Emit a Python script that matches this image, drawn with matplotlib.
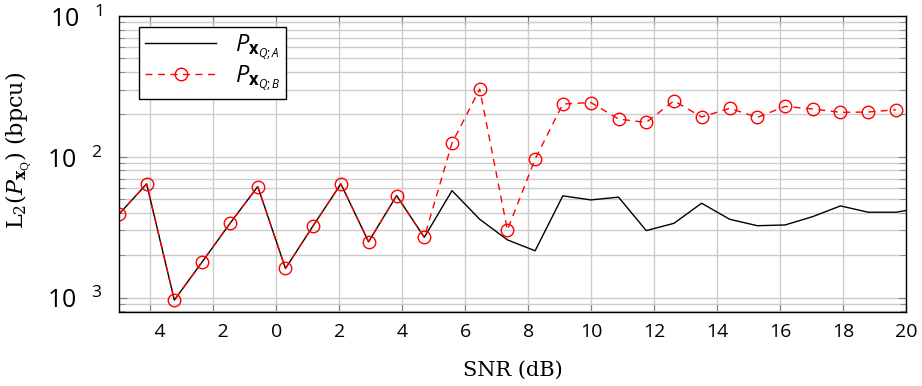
import matplotlib
matplotlib.use("Agg")
import matplotlib.pyplot as plt
from matplotlib.ticker import FixedLocator, LogLocator, NullFormatter

# SNR grid (dB)
snr = [-5.0, -4.12, -3.24, -2.35, -1.47, -0.59, 0.29, 1.17, 2.05, 2.93,
       3.82, 4.70, 5.58, 6.46, 7.34, 8.22, 9.10, 9.99, 10.87, 11.75,
       12.63, 13.51, 14.40, 15.28, 16.16, 17.04, 17.92, 18.80, 19.69, 20.57]

# P_x Q;A  (black solid)
loss_a = [3.91e-3, 6.42e-3, 9.60e-4, 1.80e-3, 3.37e-3, 6.15e-3, 1.61e-3, 3.24e-3,
          6.42e-3, 2.49e-3, 5.30e-3, 2.68e-3, 5.75e-3, 3.60e-3, 2.57e-3, 2.15e-3,
          5.28e-3, 4.94e-3, 5.17e-3, 2.99e-3, 3.37e-3, 4.68e-3, 3.60e-3, 3.24e-3,
          3.28e-3, 3.76e-3, 4.48e-3, 4.04e-3, 4.04e-3, 4.37e-3]

# P_x Q;B  (red dashed, circles)
loss_b = [3.91e-3, 6.42e-3, 9.60e-4, 1.80e-3, 3.37e-3, 6.15e-3, 1.61e-3, 3.24e-3,
          6.42e-3, 2.49e-3, 5.30e-3, 2.68e-3, 1.252e-2, 3.03e-2, 3.02e-3, 9.63e-3,
          2.37e-2, 2.43e-2, 1.855e-2, 1.754e-2, 2.50e-2, 1.917e-2, 2.21e-2, 1.904e-2,
          2.28e-2, 2.185e-2, 2.07e-2, 2.08e-2, 2.16e-2]

xticks = [-4, -2, 0, 2, 4, 6, 8, 10, 12, 14, 16, 18, 20]
xtick_labels = ["\u2003" + str(abs(t)) if t < 0 else str(t) for t in xticks]
yticks = [1e-3, 1e-2, 1e-1]
ytick_labels = [r"$10^{\quad 3}$", r"$10^{\quad 2}$", r"$10^{\quad 1}$"]

plt.rcParams["mathtext.fontset"] = "custom"
plt.rcParams["mathtext.rm"] = "Open Sans"
plt.rcParams["mathtext.it"] = "Open Sans:italic"
plt.rcParams["mathtext.bf"] = "Open Sans:bold"

fig = plt.figure(figsize=(9.22, 3.86), dpi=100)
ax = fig.add_axes([0.129, 0.1917, 0.8536, 0.7668])

ax.plot(snr, loss_a, color="black", lw=1.0, label=r"$P_{\mathbf{x}_{Q;A}}$")
ax.plot(snr[:len(loss_b)], loss_b, color="red", lw=1.0, ls=(0, (5, 4)),
        marker="o", markersize=9, markerfacecolor="none", markeredgecolor="red",
        markeredgewidth=1.0, label=r"$P_{\mathbf{x}_{Q;B}}$")

ax.set_yscale("log")
ax.set_xlim(-5, 20)
ax.set_ylim(7.9e-4, 0.1)

ax.xaxis.set_major_locator(FixedLocator(xticks))
ax.set_xticklabels(xtick_labels, fontsize=14, family="Open Sans")
ax.yaxis.set_major_locator(FixedLocator(yticks))
ax.set_yticklabels(ytick_labels, fontsize=18)
ax.yaxis.set_minor_locator(LogLocator(base=10, subs=range(2, 10)))
ax.yaxis.set_minor_formatter(NullFormatter())

ax.grid(True, which="major", color="#cccccc", lw=1.0)
ax.grid(True, which="minor", axis="y", color="#cccccc", lw=1.0)
ax.set_axisbelow(True)
ax.tick_params(which="both", direction="in", top=True, right=True, color="#808080")
ax.tick_params(which="major", length=6, pad=8)
ax.tick_params(axis="y", which="major", pad=12)
ax.tick_params(which="minor", length=4)
for s in ax.spines.values():
    s.set_linewidth(1.0)

ax.set_xlabel("SNR (dB)", fontsize=15, family="DejaVu Serif")
ax.xaxis.set_label_coords(0.5, -0.165)
yl = ax.set_ylabel(r"$\mathrm{L}_2(P_{\mathbf{x}_{\mathrm{Q}}})$ (bpcu)", fontsize=16,
                   family="DejaVu Serif")
yl.set_math_fontfamily("dejavuserif")
ax.yaxis.set_label_coords(-0.108, 0.547)

leg = ax.legend(loc="upper left", bbox_to_anchor=(0.0258, 0.964), borderaxespad=0,
                fontsize=17, fancybox=False, framealpha=1, edgecolor="black",
                handlelength=3.0, borderpad=0.25, labelspacing=0.05)
leg.get_frame().set_linewidth(1.0)

fig.savefig("out.png", dpi=100)
